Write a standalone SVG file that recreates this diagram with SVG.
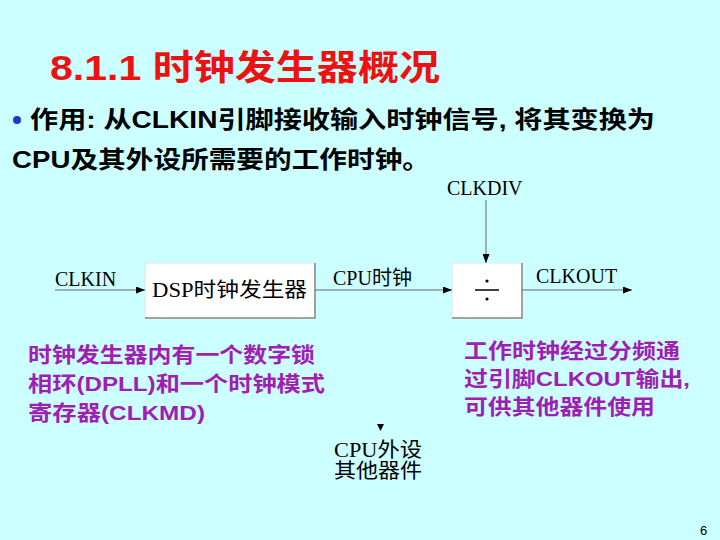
<svg xmlns="http://www.w3.org/2000/svg" width="720" height="540" viewBox="0 0 720 540">
<defs>
<marker id="ah" markerWidth="9" markerHeight="7" refX="9" refY="3.5" orient="auto" markerUnits="userSpaceOnUse">
<path d="M0,0 L9,3.5 L0,7 Z" fill="#000"/>
</marker>
<style>
.bg{fill:#CCFFFF}
.title{font-family:"Liberation Sans","Noto Sans CJK SC",sans-serif;font-weight:bold;font-size:35px;fill:#EE1111}
.body{font-family:"Liberation Sans","Noto Sans CJK SC",sans-serif;font-weight:bold;font-size:24px;fill:#000}
.lbl{font-family:"Liberation Serif","Noto Sans CJK SC",serif;font-size:20px;fill:#000}
.note{font-family:"Liberation Sans","Noto Sans CJK SC",sans-serif;font-weight:bold;font-size:21px;fill:#A01EB4}
.box{fill:#FFFFFF;stroke:#D8E8E8;stroke-width:1}
.shadow{fill:none;stroke:#888;stroke-width:1.5}
.wire{stroke:#666;stroke-width:1;fill:none}
</style>
</defs>
<rect class="bg" x="0" y="0" width="720" height="540"/>
<text class="title" x="50" y="80" textLength="390" lengthAdjust="spacingAndGlyphs">8.1.1 时钟发生器概况</text>
<circle cx="17" cy="120" r="4" fill="#2233CC"/>
<text class="body" x="30" y="128" textLength="625" lengthAdjust="spacingAndGlyphs">作用: 从CLKIN引脚接收输入时钟信号, 将其变换为</text>
<text class="body" x="12" y="168" textLength="418" lengthAdjust="spacingAndGlyphs">CPU及其外设所需要的工作时钟。</text>
<g id="clkdiv-label"><text class="lbl" x="447" y="195">CLKDIV</text></g>
<g id="dsp">
<rect class="box" x="145" y="263" width="170" height="55"/>
<path class="shadow" d="M145,318 H315 V263"/>
<text class="lbl" x="152" y="297" textLength="155" lengthAdjust="spacingAndGlyphs">DSP时钟发生器</text>
</g>
<g id="div">
<rect class="box" x="452" y="263" width="70" height="55"/>
<path class="shadow" d="M452,318 H522 V263"/>
<line x1="475" y1="290" x2="499" y2="290" stroke="#000" stroke-width="1.5"/>
<circle cx="487" cy="281" r="1.6" fill="#000"/>
<circle cx="487" cy="299" r="1.6" fill="#000"/>
</g>
<g id="labels">
<text class="lbl" x="55" y="286">CLKIN</text>
<text class="lbl" x="333" y="285">CPU时钟</text>
<text class="lbl" x="536" y="283">CLKOUT</text>
<text class="lbl" x="334" y="457" font-size="18" textLength="88" lengthAdjust="spacingAndGlyphs">CPU外设</text>
<text class="lbl" x="334" y="478" font-size="18" textLength="88" lengthAdjust="spacingAndGlyphs">其他器件</text>
</g>
<g id="connectors">
<line class="wire" x1="55" y1="290" x2="145" y2="290" marker-end="url(#ah)"/>
<line class="wire" x1="315" y1="290" x2="452" y2="290" marker-end="url(#ah)"/>
<line class="wire" x1="522" y1="290" x2="632" y2="290" marker-end="url(#ah)"/>
<line class="wire" x1="486" y1="200" x2="486" y2="263" marker-end="url(#ah)"/>
<path d="M377,424 L384,424 L380.5,431 Z" fill="#000"/>
</g>
<g id="notes">
<text class="note" x="28" y="362" textLength="287" lengthAdjust="spacingAndGlyphs">时钟发生器内有一个数字锁</text>
<text class="note" x="28" y="391" textLength="297" lengthAdjust="spacingAndGlyphs">相环(DPLL)和一个时钟模式</text>
<text class="note" x="28" y="420" textLength="177" lengthAdjust="spacingAndGlyphs">寄存器(CLKMD)</text>
<text class="note" x="464" y="358" textLength="216" lengthAdjust="spacingAndGlyphs">工作时钟经过分频通</text>
<text class="note" x="464" y="386" textLength="226" lengthAdjust="spacingAndGlyphs">过引脚CLKOUT输出,</text>
<text class="note" x="464" y="414" textLength="191" lengthAdjust="spacingAndGlyphs">可供其他器件使用</text>
</g>
<text x="700" y="535" font-family="Liberation Sans, sans-serif" font-size="13" fill="#000">6</text>
</svg>
